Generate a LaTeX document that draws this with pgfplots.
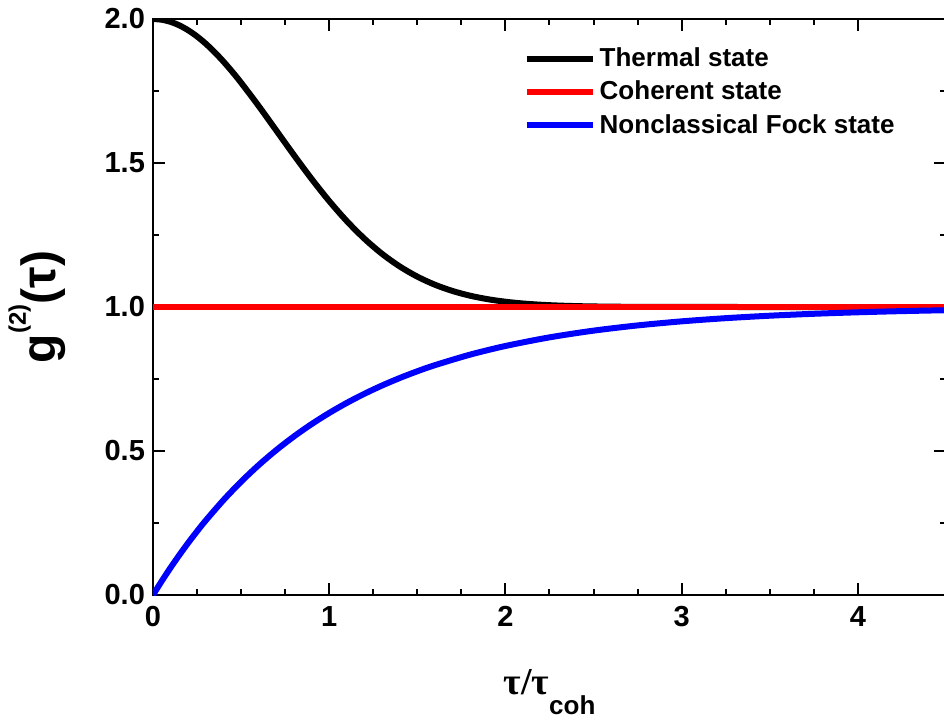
\documentclass[border=0pt]{standalone}
\usepackage{pgfplots}
\pgfplotsset{compat=1.18}
\usepackage{fontspec}
\setmainfont{Liberation Sans}
\newfontfamily\serifg{Liberation Serif}
\pgfplotstableread{
t g
0.0 2.00000
0.05 1.99750
0.1 1.99005
0.15 1.97775
0.2 1.96079
0.25 1.93941
0.3 1.91393
0.35 1.88471
0.4 1.85214
0.45 1.81669
0.5 1.77880
0.6 1.69768
0.7 1.61263
0.8 1.52729
0.9 1.44486
1.0 1.36788
1.1 1.29820
1.2 1.23693
1.3 1.18452
1.4 1.14086
1.5 1.10540
1.6 1.07730
1.7 1.05558
1.8 1.03916
1.9 1.02705
2.0 1.01832
2.1 1.01216
2.2 1.00791
2.3 1.00504
2.4 1.00315
2.5 1.00193
2.7 1.00068
3.0 1.00012
3.5 1.00000
4.0 1.00000
4.5 1.00000
}\thermal
\pgfplotstableread{
t g
0.0 1.0
4.5 1.0
}\coherent
\pgfplotstableread{
t g
0.0 0.00000
0.05 0.04877
0.1 0.09516
0.15 0.13929
0.2 0.18127
0.25 0.22120
0.3 0.25918
0.4 0.32968
0.5 0.39347
0.6 0.45119
0.7 0.50341
0.8 0.55067
0.9 0.59343
1.0 0.63212
1.1 0.66713
1.2 0.69881
1.3 0.72747
1.4 0.75340
1.5 0.77687
1.6 0.79810
1.8 0.83470
2.0 0.86466
2.25 0.89460
2.5 0.91792
2.75 0.93607
3.0 0.95021
3.25 0.96124
3.5 0.96980
3.75 0.97648
4.0 0.98168
4.25 0.98574
4.5 0.98889
}\fock
\begin{document}
\begin{tikzpicture}
\begin{axis}[
  scale only axis,
  width=396.5pt, height=288pt,
  xmin=0, xmax=4.5, ymin=0, ymax=2.0,
  xtick={0,1,2,3,4}, ytick={0,0.5,1.0,1.5,2.0},
  minor x tick num=3, minor y tick num=1,
  tick align=inside,
  major tick length=6pt, minor tick length=3pt,
  every tick/.style={line width=1pt, black},
  axis line style={line width=1pt},
  /pgf/number format/assume math mode=true,
  tick label style={font=\fontsize{14.5}{16}\selectfont\bfseries},
  yticklabel style={/pgf/number format/fixed, /pgf/number format/fixed zerofill, /pgf/number format/precision=1, xshift=-0.5pt},
  xticklabel style={yshift=-2pt},
  xlabel={{\serifg\bfseries τ/τ}\raisebox{-10pt}{\fontsize{13}{13}\selectfont\bfseries coh}},
  xlabel style={at={(axis description cs:0.5,-0.1736)}, anchor=base, font=\fontsize{19}{20}\selectfont},
  ylabel={g\raisebox{15pt}{\fontsize{12}{12}\selectfont\bfseries(2)}(τ)},
  ylabel style={at={(axis description cs:-0.146,0.5)}, anchor=center, font=\fontsize{24}{28}\selectfont\bfseries},
  legend style={at={(axis description cs:0.467,0.958)}, anchor=north west, draw=none, fill=none,
    font=\fontsize{13}{15}\selectfont\bfseries, row sep=1.8pt, inner sep=0pt},
  legend cell align=left,
  legend image code/.code={\draw[#1] (0pt,0pt) -- (33pt,0pt);},
]
\addplot[black, line width=3pt, smooth] table[x=t,y=g] {\thermal};
\addlegendentry{Thermal state}
\addplot[red, line width=3pt] table[x=t,y=g] {\coherent};
\addlegendentry{Coherent state}
\addplot[blue, line width=3pt, smooth] table[x=t,y=g] {\fock};
\addlegendentry{Nonclassical Fock state}
\end{axis}
\pgfresetboundingbox
\path[use as bounding box] ([shift={(-76.5pt,-62pt)}]current axis.south west) rectangle ([shift={(395.5pt,297.5pt)}]current axis.south west);
\end{tikzpicture}
\end{document}
